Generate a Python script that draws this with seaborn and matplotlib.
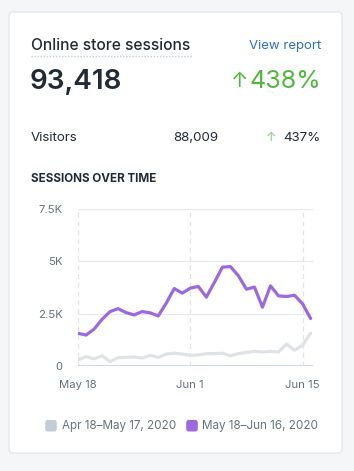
import numpy as np
import pandas as pd
import matplotlib
matplotlib.use("Agg")
import matplotlib.pyplot as plt
import matplotlib.dates as mdates
from matplotlib.patches import FancyBboxPatch
from matplotlib.ticker import FixedLocator, FuncFormatter
import seaborn as sns

# data
dates = pd.date_range("2020-05-18", "2020-06-16", freq="D")
current = [1.56, 1.48, 1.76, 2.23, 2.60, 2.74, 2.55, 2.44, 2.60, 2.54,
           2.39, 3.00, 3.70, 3.48, 3.72, 3.80, 3.29, 3.99, 4.72, 4.75,
           4.31, 3.67, 3.77, 2.81, 3.83, 3.35, 3.32, 3.38, 2.97, 2.27]
previous = [0.29, 0.45, 0.34, 0.49, 0.21, 0.40, 0.41, 0.43, 0.38, 0.51,
            0.41, 0.57, 0.61, 0.57, 0.51, 0.53, 0.59, 0.59, 0.61, 0.49,
            0.59, 0.65, 0.70, 0.67, 0.70, 0.67, 1.05, 0.75, 1.00, 1.56]
series_labels = ["Apr 18–May 17, 2020", "May 18–Jun 16, 2020"]
y_ticks = [0, 2500, 5000, 7500]
x_ticks = ["2020-05-18", "2020-06-01", "2020-06-15"]

df = pd.DataFrame({
    "date": list(dates) * 2,
    "sessions": [v * 1000 for v in previous] + [v * 1000 for v in current],
    "period": [series_labels[0]] * 30 + [series_labels[1]] * 30,
})

sns.set_theme(style="white")
plt.rcParams["font.family"] = ["Inter", "DejaVu Sans"]

ink = "#212b36"
muted = "#637381"
green = "#50b83c"
purple = "#9c6ade"
grey_line = "#dfe3e8"

fig = plt.figure(figsize=(3.54, 4.71), dpi=100)
fig.patch.set_facecolor("#f4f6f8")

W, H = 354, 471
def fx(px): return px / W
def fy(py): return 1 - py / H

card = FancyBboxPatch((fx(9), fy(453)), fx(342) - fx(9), fy(12) - fy(453),
                      boxstyle="round,pad=0,rounding_size=0.01",
                      transform=fig.transFigure, facecolor="white",
                      edgecolor="#dfe3e8", linewidth=0.8, zorder=-5)
fig.patches.append(card)

fig.text(fx(31), fy(46), "Online store sessions", fontsize=11.2, fontweight="medium",
         color=ink, va="center", ha="left")
fig.add_artist(plt.Line2D([fx(31), fx(192)], [fy(55.5), fy(55.5)], transform=fig.transFigure,
                          color="#c4cdd5", linestyle=(0, (1, 1.2)), linewidth=1))
fig.text(fx(321), fy(46), "View report", fontsize=9.5, color="#2c6ecb", va="center", ha="right")
fig.text(fx(30), fy(82), "93,418", fontsize=20, fontweight="semibold", color=ink, va="center", ha="left")
fig.text(fx(321), fy(82), "438%", fontsize=18, fontweight="normal", color=green, va="center", ha="right")
fig.text(fx(248), fy(81), "↑", fontsize=15, color=green, va="center", ha="right")

fig.text(fx(31), fy(138), "Visitors", fontsize=9.6, color=ink, va="center", ha="left")
fig.text(fx(218), fy(138), "88,009", fontsize=9.6, color=ink, va="center", ha="right")
fig.text(fx(320), fy(138), "437%", fontsize=9.6, color=ink, va="center", ha="right")
fig.text(fx(276), fy(138), "↑", fontsize=9, color="#7fd06a", va="center", ha="right")

fig.text(fx(31), fy(179), "SESSIONS OVER TIME", fontsize=8.4, fontweight="bold",
         color=ink, va="center", ha="left")

ax = fig.add_axes([fx(78), fy(366), fx(313) - fx(78), fy(209) - fy(366)])
ax.set_zorder(2)
sns.lineplot(data=df, x="date", y="sessions", hue="period",
             palette=[grey_line, purple], linewidth=2.3, ax=ax, legend=False)

ax.set_xlim(mdates.date2num(pd.Timestamp("2020-05-18")), mdates.date2num(pd.Timestamp("2020-06-16")) + 0.3)
ax.set_ylim(0, 7500)
ax.yaxis.set_major_locator(FixedLocator(y_ticks))
ax.yaxis.set_major_formatter(FuncFormatter(lambda v, p: "0" if v == 0 else f"{v/1000:g}K"))
ax.xaxis.set_major_locator(FixedLocator([mdates.date2num(pd.Timestamp(d)) for d in x_ticks]))
ax.xaxis.set_major_formatter(FuncFormatter(lambda v, p: mdates.num2date(v).strftime("%b %-d")))

for y in y_ticks[1:]:
    ax.axhline(y, color="#e6e9ed", linewidth=0.9, zorder=0)
for d in x_ticks:
    ax.axvline(mdates.date2num(pd.Timestamp(d)), color="#e1e4e8", linewidth=0.9,
               linestyle=(0, (4, 3)), zorder=0)
ax.axhline(0, color="#c3d1ea", linewidth=1.2, zorder=1)

for s in ax.spines.values():
    s.set_visible(False)
ax.set_xlabel("")
ax.set_ylabel("")
ax.tick_params(axis="y", length=0, pad=11, labelsize=8.2, labelcolor=muted)
ax.tick_params(axis="x", length=4, width=0.8, color="#c3d1ea", pad=6, labelsize=8.2, labelcolor=muted)
ax.set_facecolor("none")

# legend
lx = [fx(51), fx(192)]
for i, lab in enumerate(series_labels):
    fig.add_artist(FancyBboxPatch((lx[i] - fx(5.8), fy(431.5)), fx(11.6), fy(420) - fy(431.5),
                                  boxstyle="round,pad=0,rounding_size=0.006",
                                  transform=fig.transFigure,
                                  facecolor=["#c4cdd5", purple][i], edgecolor="none"))
    fig.text(lx[i] + fx(10.5), fy(426), lab, fontsize=8.4, color=muted, va="center", ha="left")

fig.savefig("out.png", dpi=100, facecolor=fig.get_facecolor())
